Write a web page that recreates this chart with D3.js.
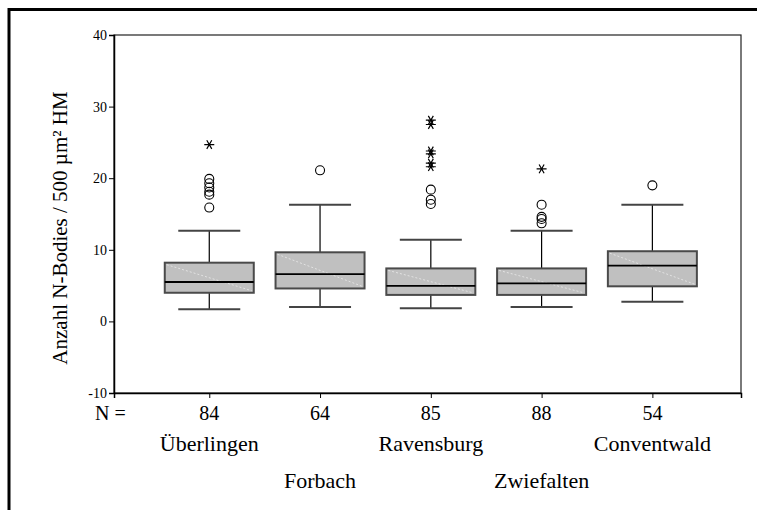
<!DOCTYPE html>
<html>
<head>
<meta charset="utf-8">
<script src="https://cdn.jsdelivr.net/npm/d3@7"></script>
<style>
  html, body { margin: 0; padding: 0; background: #fff; }
  svg { display: block; }
  text { font-family: "Liberation Serif", "Times New Roman", serif; fill: #000; }
</style>
</head>
<body>
<div id="chart"></div>
<script>
// ---- data ----
const sites = ["Überlingen", "Forbach", "Ravensburg", "Zwiefalten", "Conventwald"];
const nValues = [84, 64, 85, 88, 54];
const whiskerLow = [1.7, 2.0, 1.85, 2.0, 2.75];
const q1 = [4.0, 4.6, 3.7, 3.7, 4.9];
const median = [5.5, 6.6, 4.95, 5.3, 7.8];
const q3 = [8.2, 9.65, 7.4, 7.4, 9.8];
const whiskerHigh = [12.65, 16.3, 11.4, 12.65, 16.3];
const outliers = [
  [15.9, 17.7, 18.1, 18.7, 19.3, 19.9],
  [21.1],
  [16.4, 17.0, 18.4],
  [13.7, 14.3, 14.6, 16.3],
  [19.0]
];
const extremes = [
  [24.7],
  [],
  [21.6, 22.1, 23.4, 23.8, 27.5, 28.1],
  [21.3],
  []
];
const yTicks = [-10, 0, 10, 20, 30, 40];
const yTitle = "Anzahl N-Bodies / 500 µm² HM";

// ---- layout ----
const W = 757, H = 510;
const svg = d3.select("#chart").append("svg").attr("width", W).attr("height", H);

const x = d3.scaleLinear().domain([0.14, 5.8]).range([114, 741]);
const y = d3.scaleLinear().domain([-10, 40]).range([393, 35]);
const boxHalf = 44.5, capHalf = 31;

// outer frame (top and left)
svg.append("path")
  .attr("d", `M9,${H} L9,9.5 L${W},9.5`)
  .attr("fill", "none").attr("stroke", "#000").attr("stroke-width", 3);

// plot frame
svg.append("rect")
  .attr("x", x.range()[0]).attr("y", y.range()[1])
  .attr("width", x.range()[1] - x.range()[0]).attr("height", y.range()[0] - y.range()[1])
  .attr("fill", "none").attr("stroke", "#222").attr("stroke-width", 1.2);

// y axis
const yAxis = d3.axisLeft(y).tickValues(yTicks).tickSize(5).tickPadding(2).tickFormat(d => String(d));
const gy = svg.append("g").attr("transform", `translate(${x.range()[0]},0)`).call(yAxis);
gy.select(".domain").attr("stroke", "#000").attr("stroke-width", 1.5);
gy.selectAll(".tick line").attr("stroke", "#000");
gy.selectAll(".tick text").attr("font-size", 14).attr("font-family", "Liberation Serif").attr("fill", "#000");

// x axis (ticks at categories)
const xAxis = d3.axisBottom(x).tickValues(d3.range(1, sites.length + 1)).tickSize(5).tickFormat(() => "");
const gx = svg.append("g").attr("transform", `translate(0,${y.range()[0]})`).call(xAxis);
gx.select(".domain").attr("stroke", "#000").attr("stroke-width", 1.5);
gx.selectAll(".tick line").attr("stroke", "#000");

// N row
svg.append("text").attr("x", 95).attr("y", 420).attr("font-size", 20).text("N =");
svg.selectAll("text.nval").data(nValues).join("text")
  .attr("class", "nval")
  .attr("x", (d, i) => x(i + 1)).attr("y", 420)
  .attr("text-anchor", "middle").attr("font-size", 20)
  .text(d => d);

// category labels (staggered)
svg.selectAll("text.cat").data(sites).join("text")
  .attr("class", "cat")
  .attr("x", (d, i) => x(i + 1))
  .attr("y", (d, i) => i % 2 === 0 ? 451 : 488)
  .attr("text-anchor", "middle").attr("font-size", 22)
  .text(d => d);

// y title
svg.append("text")
  .attr("transform", `translate(67,${(y(40) + y(-10)) / 2 + 14}) rotate(-90)`)
  .attr("text-anchor", "middle").attr("font-size", 21)
  .text(yTitle);

// boxes
const g = svg.append("g");
sites.forEach((s, i) => {
  const cx = x(i + 1);
  // whiskers
  g.append("line").attr("x1", cx).attr("x2", cx).attr("y1", y(q3[i])).attr("y2", y(whiskerHigh[i]))
    .attr("stroke", "#000").attr("stroke-width", 1.2);
  g.append("line").attr("x1", cx).attr("x2", cx).attr("y1", y(q1[i])).attr("y2", y(whiskerLow[i]))
    .attr("stroke", "#000").attr("stroke-width", 1.2);
  // caps
  [whiskerHigh[i], whiskerLow[i]].forEach(v => {
    g.append("line").attr("x1", cx - capHalf).attr("x2", cx + capHalf).attr("y1", y(v)).attr("y2", y(v))
      .attr("stroke", "#444").attr("stroke-width", 2);
  });
  // box
  g.append("rect")
    .attr("x", cx - boxHalf).attr("y", y(q3[i]))
    .attr("width", boxHalf * 2).attr("height", y(q1[i]) - y(q3[i]))
    .attr("fill", "#c0c0c0").attr("stroke", "#4a4a4a").attr("stroke-width", 2);
  // faint diagonal
  g.append("line")
    .attr("x1", cx - boxHalf + 2).attr("y1", y(q3[i]) + 2)
    .attr("x2", cx + boxHalf - 2).attr("y2", y(q1[i]) - 2)
    .attr("stroke", "#e2e2e2").attr("stroke-width", 1).attr("stroke-dasharray", "2,2");
  // median
  g.append("line").attr("x1", cx - boxHalf).attr("x2", cx + boxHalf).attr("y1", y(median[i])).attr("y2", y(median[i]))
    .attr("stroke", "#000").attr("stroke-width", 1.8);
  // outliers
  outliers[i].forEach(v => {
    g.append("circle").attr("cx", cx).attr("cy", y(v)).attr("r", 4.5)
      .attr("fill", "none").attr("stroke", "#000").attr("stroke-width", 1.1);
  });
  // extremes (asterisks)
  extremes[i].forEach(v => {
    const cy = y(v), r = 5;
    const p = d3.path();
    [0, 60, 120].forEach(a => {
      const rad = a * Math.PI / 180;
      p.moveTo(cx - r * Math.cos(rad), cy - r * Math.sin(rad));
      p.lineTo(cx + r * Math.cos(rad), cy + r * Math.sin(rad));
    });
    g.append("path").attr("d", p.toString()).attr("stroke", "#000").attr("stroke-width", 1.2).attr("fill", "none");
  });
});
</script>
</body>
</html>
